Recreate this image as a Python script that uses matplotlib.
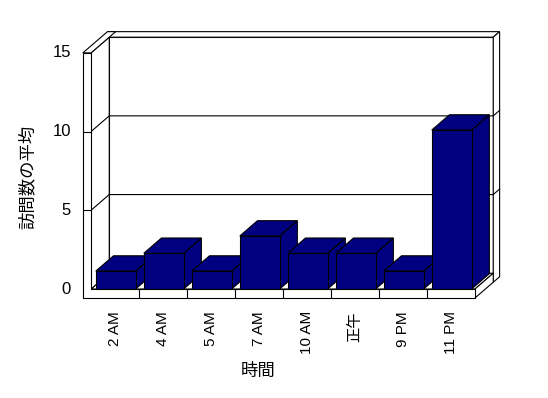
import matplotlib
matplotlib.use("Agg")
import matplotlib.pyplot as plt
from matplotlib.patches import Polygon, Rectangle

# ---- data ----
categories = ['2 AM', '4 AM', '5 AM', '7 AM', '10 AM', '正午', '9 PM', '11 PM']
values = [1.14, 2.27, 1.14, 3.37, 2.27, 2.27, 1.14, 10.1]
y_ticks = [0, 5, 10, 15]
x_title = '時間'
y_title = '訪問数の平均'

# ---- layout / style ----
BAR = '#000080'
EDGE = 'black'
LW = 0.8
AA = True
DX, DY = 0.38, 1.0          # depth offset (one unit of depth)
BACK = 1.35                 # back face of back wall (depth units)
WALL = 0.17                 # left wall thickness (category units)
FLOOR = 0.57                # floor thickness (value units)
YMAX = 15
n = len(categories)

fig = plt.figure(figsize=(5.48, 3.98), dpi=100)
ax = fig.add_axes([0, 0, 1, 1])
ax.set_xlim(-91 / 48, (548 - 91) / 48)
ax.set_ylim((289 - 398) / 15.74, 289 / 15.74)
ax.axis('off')

def poly(pts, fc='white', z=1):
    ax.add_patch(Polygon(pts, closed=True, facecolor=fc, edgecolor=EDGE, lw=LW, zorder=z,
                         joinstyle='miter', antialiased=AA))

def off(x, y, d):
    return (x + d * DX, y + d * DY)

# back wall front face
poly([off(0, 0, 1), off(n, 0, 1), off(n, YMAX, 1), off(0, YMAX, 1)], z=1)
# back wall top face
poly([off(0, YMAX, 1), off(n, YMAX, 1), off(n, YMAX, BACK), off(-WALL, YMAX, BACK)], z=1)
# back wall right face
poly([off(n, -FLOOR, 1), off(n, -FLOOR, BACK), off(n, YMAX, BACK), off(n, YMAX, 1)], z=1)
# floor top
poly([off(0, 0, 0), off(n, 0, 0), off(n, 0, 1), off(0, 0, 1)], z=1)
# left wall inner face
poly([off(0, 0, 0), off(0, 0, 1), off(0, YMAX, 1), off(0, YMAX, 0)], z=1)
# left wall top face
poly([off(-WALL, YMAX, 0), off(0, YMAX, 0), off(0, YMAX, BACK), off(-WALL, YMAX, BACK)], z=2)

# gridlines
for v in y_ticks[1:-1]:
    xs, ys = zip(off(0, v, 0), off(0, v, 1), off(n, v, 1), off(n, v, BACK))
    ax.plot(xs, ys, color=EDGE, lw=LW, zorder=2, solid_joinstyle='miter', antialiased=AA)

# bars (left to right so later bars hide earlier side faces)
for i, v in enumerate(values):
    x0, x1 = i + 0.10, i + 0.93
    z = 3 + i
    poly([off(x1, 0, 0), off(x1, 0, 0.97), off(x1, v, 0.97), off(x1, v, 0)], fc=BAR, z=z)
    poly([off(x0, v, 0), off(x1, v, 0), off(x1, v, 0.97), off(x0, v, 0.97)], fc=BAR, z=z)
    ax.add_patch(Rectangle((x0, 0), x1 - x0, v, facecolor=BAR, edgecolor=EDGE, lw=LW,
                           zorder=z, antialiased=AA))

# floor right face
poly([off(n, -FLOOR, 0), off(n, -FLOOR, 1), off(n, 0, 1), off(n, 0, 0)], z=20)
# front L (left wall front + floor front)
poly([(-WALL, YMAX), (0, YMAX), (0, 0), (n, 0), (n, -FLOOR), (-WALL, -FLOOR)], z=20)
# ticks on the L
for v in y_ticks[1:-1]:
    ax.plot([-WALL, 0], [v, v], color=EDGE, lw=LW, zorder=21, antialiased=AA)
for i in range(1, n):
    ax.plot([i, i], [0, -FLOOR], color=EDGE, lw=LW, zorder=21, antialiased=AA)

fam = ['Liberation Sans', 'Noto Sans CJK JP', 'DejaVu Sans']
cjk = ['Noto Sans CJK JP', 'DejaVu Sans']
for v in y_ticks:
    ax.text(-20 / 48, v, str(v), ha='right', va='center', fontsize=12, family=fam, zorder=30)
for i, c in enumerate(categories):
    ax.text(i + 0.5, -22 / 15.74, c, ha='center', va='top', rotation=90,
            fontsize=11, family=fam, zorder=30)
ax.text((258 - 91) / 48, (289 - 371) / 15.74, x_title, ha='center', va='center',
        fontsize=12.5, family=cjk, zorder=30)
ax.text((28 - 91) / 48, (289 - 176.5) / 15.74, y_title, ha='center', va='center',
        rotation=90, fontsize=12.5, family=cjk, zorder=30)

fig.savefig('out.png', dpi=100, facecolor='white')
